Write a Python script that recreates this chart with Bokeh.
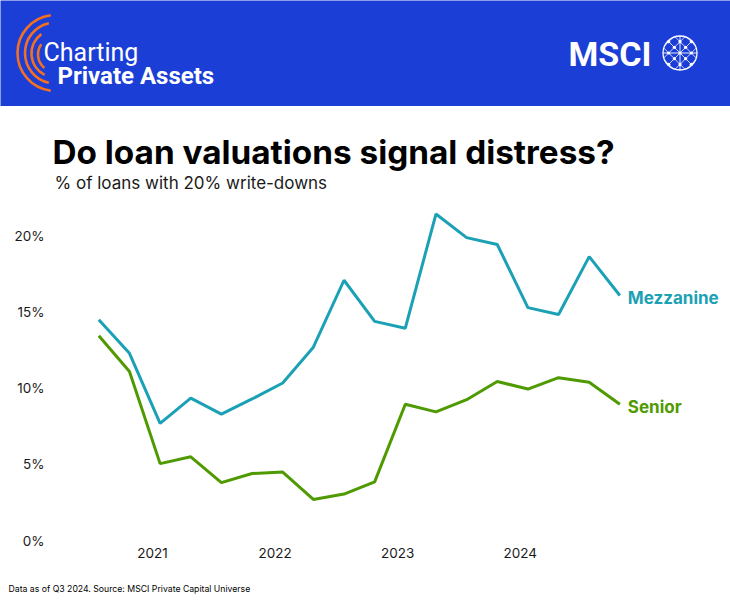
import numpy as np
from bokeh.plotting import figure
from bokeh.layouts import column
from bokeh.models import Range1d, FixedTicker, PrintfTickFormatter
from bokeh.core.properties import value
from bokeh.embed import file_html
from bokeh.resources import INLINE

# ---------------- data ----------------
quarters = ["2020 Q2", "2020 Q3", "2020 Q4", "2021 Q1", "2021 Q2", "2021 Q3",
            "2021 Q4", "2022 Q1", "2022 Q2", "2022 Q3", "2022 Q4", "2023 Q1",
            "2023 Q2", "2023 Q3", "2023 Q4", "2024 Q1", "2024 Q2", "2024 Q3"]
mezzanine = [14.5, 12.3, 7.7, 9.35, 8.3, 9.3, 10.35, 12.7, 17.1, 14.4, 13.95,
             21.45, 19.9, 19.45, 15.3, 14.85, 18.65, 16.1]
senior = [13.45, 11.1, 5.05, 5.5, 3.8, 4.4, 4.5, 2.7, 3.05, 3.85, 8.95,
          8.45, 9.25, 10.45, 9.95, 10.7, 10.4, 8.95]
year_labels = ["2021", "2022", "2023", "2024"]
year_ticks = [1.75, 5.75, 9.75, 13.75]
y_ticks = [0, 5, 10, 15, 20]

BLUE = "#1B3ED6"
ORANGE = "#F36F21"
TEAL = "#1BA1B6"
GREEN = "#4F9A00"
INK = "#1a1a1a"
FONT = value("Inter")
W = 730


def blank(y0, y1, bg="white"):
    f = figure(width=W, height=y1 - y0, x_range=Range1d(0, W),
               y_range=Range1d(y1, y0), x_axis_location=None,
               y_axis_location=None, output_backend="svg",
               toolbar_location=None, min_border_left=0, min_border_right=0,
               min_border_top=0, min_border_bottom=0, frame_align=False)
    f.background_fill_color = bg
    f.border_fill_color = bg
    f.outline_line_color = None
    f.grid.visible = False
    return f


# ---------------- header ----------------
h = blank(0, 106, BLUE)
h.arc(x=[55, 55, 55, 55], y=[52.5, 52.5, 53, 54], radius=[38, 30.5, 24, 17.5],
      start_angle=[0.54 * np.pi, 0.57 * np.pi, 0.7 * np.pi, 0.8 * np.pi],
      end_angle=[1.46 * np.pi, 1.43 * np.pi, 1.35 * np.pi, 1.28 * np.pi],
      line_color=ORANGE, line_width=2.6)
h.text(x=[43], y=[52], text=["Charting"], text_color="white",
       text_font=value("Roboto"), text_font_size="25px",
       text_baseline="middle")
h.text(x=[57], y=[75], text=["Private Assets"], text_color="white",
       text_font=value("Roboto"), text_font_style="bold",
       text_font_size="24px", text_baseline="middle")
h.text(x=[568], y=[53.5], text=["MSCI"], text_color="white",
       text_font=value("Roboto"), text_font_style="bold",
       text_font_size="34px", text_baseline="middle")
gx, gy, gr = 679.5, 52.5, 17.0
h.circle(x=[gx], y=[gy], radius=gr, fill_color=None, line_color="white",
         line_width=1.3)
xs, ys = [], []
offs = (-16, -8, 0, 8, 16)
for sgn in (1, -1):
    d = np.array([1, sgn]) / np.sqrt(2)
    n = np.array([1, -sgn]) / np.sqrt(2)
    for c in offs:
        half = np.sqrt(gr ** 2 - c ** 2)
        p0 = np.array([gx, gy]) + c * n - half * d
        p1 = np.array([gx, gy]) + c * n + half * d
        xs.append([p0[0], p1[0]])
        ys.append([p0[1], p1[1]])
h.multi_line(xs=xs, ys=ys, line_color="white", line_width=0.9, line_alpha=0.9)
h.line(x=[gx - gr, gx + gr], y=[gy, gy], line_color="white", line_width=0.9)
h.line(x=[gx, gx], y=[gy - gr, gy + gr], line_color="white", line_width=0.9)
n1 = np.array([1, -1]) / np.sqrt(2)
n2 = np.array([1, 1]) / np.sqrt(2)
nodes = [np.array([gx, gy]) + a * n1 + b * n2 for a in offs for b in offs]
nodes = [q for q in nodes if np.hypot(q[0] - gx, q[1] - gy) < gr - 1]
h.scatter(x=[q[0] for q in nodes], y=[q[1] for q in nodes], size=3.2,
          color="white", line_color=None)

# ---------------- title ----------------
t = blank(106, 192)
t.text(x=[52], y=[151], text=["Do loan valuations signal distress?"],
       text_color="black", text_font=FONT, text_font_style="bold",
       text_font_size="33.3px", text_baseline="middle")
t.text(x=[54], y=[182.5], text=["% of loans with 20% write-downs"],
       text_color=INK, text_font=FONT, text_font_size="17px",
       text_baseline="middle")

# ---------------- chart ----------------
x = list(range(len(quarters)))
p = figure(width=W, height=373, x_range=Range1d(-1.25, 20.61),
           y_range=Range1d(0, 22.34), output_backend="svg",
           toolbar_location=None, min_border_left=60, min_border_right=0,
           min_border_top=8, min_border_bottom=25, frame_align=False)
p.outline_line_color = None
p.grid.visible = False
p.line(x, mezzanine, line_color=TEAL, line_width=3)
p.line(x, senior, line_color=GREEN, line_width=3)
p.text(x=[x[-1]], y=[mezzanine[-1]], text=["Mezzanine"], x_offset=8,
       y_offset=3, text_baseline="middle", text_font=FONT,
       text_font_style="bold", text_font_size="17px", text_color=TEAL)
p.text(x=[x[-1]], y=[senior[-1]], text=["Senior"], x_offset=8,
       y_offset=3, text_baseline="middle", text_font=FONT,
       text_font_style="bold", text_font_size="17px", text_color=GREEN)

p.yaxis.ticker = FixedTicker(ticks=y_ticks)
p.yaxis.formatter = PrintfTickFormatter(format="%d%%")
p.yaxis.major_label_standoff = 10
p.xaxis.ticker = FixedTicker(ticks=year_ticks)
p.xaxis.major_label_overrides = {tk: lb for tk, lb in zip(year_ticks, year_labels)}
p.xaxis.major_label_standoff = 1
for ax in (p.xaxis, p.yaxis):
    ax.axis_line_color = None
    ax.major_tick_line_color = None
    ax.minor_tick_line_color = None
    ax.major_label_text_font = "Inter"
    ax.major_label_text_font_size = "13.5px"
    ax.major_label_text_color = INK

# ---------------- footer ----------------
ft = blank(565, 600)
ft.text(x=[8], y=[588.5],
        text=["Data as of Q3 2024. Source: MSCI Private Capital Universe"],
        text_color="black", text_font=FONT, text_font_size="8.7px",
        text_baseline="middle")

layout = column(h, t, p, ft, spacing=0)
open("out.html", "w").write(file_html(layout, INLINE))
